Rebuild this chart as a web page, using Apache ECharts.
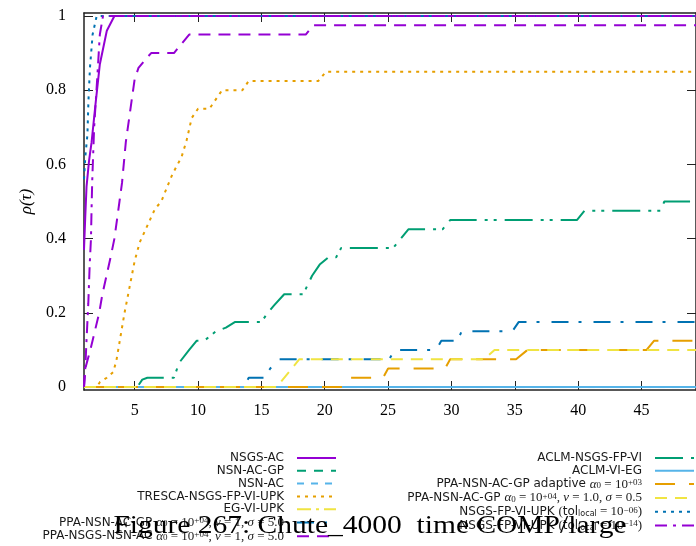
<!DOCTYPE html>
<html>
<head>
<meta charset="utf-8">
<script src="https://cdn.jsdelivr.net/npm/echarts@6/dist/echarts.min.js"></script>
<style>html,body{margin:0;padding:0;background:#fff}#c{width:696px;height:546px}</style>
</head>
<body>
<div id="c"></div>
<script>
// ---- data (tau, rho) ----
const xTicks = [5, 10, 15, 20, 25, 30, 35, 40, 45];
const yTicks = [0, 0.2, 0.4, 0.6, 0.8, 1];
const seriesNames = [
  'NSGS-AC', 'NSN-AC-GP', 'NSN-AC', 'TRESCA-NSGS-FP-VI-UPK', 'EG-VI-UPK',
  'PPA-NSN-AC-GP a0=1e+04 nu=1 s=5.0', 'PPA-NSGS-NSN-AC a0=1e+04 nu=1 s=5.0',
  'ACLM-NSGS-FP-VI', 'ACLM-VI-EG', 'PPA-NSN-AC-GP adaptive a0=1e+03',
  'PPA-NSN-AC-GP a0=1e+04 nu=1.0 s=0.5', 'NSGS-FP-VI-UPK tol=1e-06', 'NSGS-FP-VI-UPK tol=1e-14'
];
const nsgsAc = [[1,0.37],[1.1,0.46],[1.2,0.54],[1.4,0.61],[1.6,0.66],[1.9,0.76],[2.25,0.87],[2.8,0.96],[3.4,1],[50,1]];
const nsnAcGp = [[1,0],[50,0]];
const nsnAc = [[1,0],[50,0]];
const tresca = [[1,0],[2.0,0],[2.25,0.013],[2.8,0.025],[3.3,0.04],[3.55,0.07],[3.8,0.12],[4.2,0.2],[4.6,0.27],[5,0.34],[5.4,0.39],[5.8,0.42],[6.2,0.45],[6.6,0.48],[7.1,0.5],[7.75,0.555],[8,0.575],[8.7,0.62],[9.1,0.665],[9.5,0.725],[10,0.75],[10.9,0.75],[11.7,0.79],[11.9,0.8],[13.5,0.8],[14,0.825],[19.5,0.825],[20.1,0.85],[50,0.85]];
const egViUpk = [[1,0],[50,0]];
const ppaNsnS5 = [[1,0],[13.6,0],[14,0.025],[15.2,0.025],[15.7,0.05],[16.4,0.075],[25.1,0.075],[25.5,0.1],[28.8,0.1],[29.2,0.125],[30.5,0.125],[30.8,0.15],[34.8,0.15],[35.3,0.175],[50,0.175]];
const ppaNsgsNsn = [[1,0],[1.1,0.05],[1.5,0.1],[2.2,0.2],[2.45,0.25],[3.1,0.35],[3.4,0.4],[3.8,0.5],[4.0,0.55],[4.3,0.66],[4.75,0.77],[5,0.83],[5.3,0.86],[5.9,0.885],[6.3,0.9],[8.1,0.9],[9.3,0.95],[18.5,0.95],[19.1,0.975],[50,0.975]];
const aclmNsgs = [[1,0],[5.2,0],[5.6,0.02],[6,0.025],[8.1,0.025],[8.5,0.065],[9.3,0.1],[9.9,0.125],[10.5,0.125],[11.4,0.15],[12.2,0.16],[12.9,0.175],[15,0.175],[15.5,0.2],[16,0.22],[16.8,0.25],[18.3,0.25],[19,0.3],[19.6,0.33],[20.3,0.35],[20.9,0.35],[21.3,0.375],[25.4,0.375],[26.6,0.425],[29.3,0.425],[29.9,0.45],[39.9,0.45],[40.5,0.475],[46.5,0.475],[46.8,0.5],[50,0.5]];
const aclmViEg = [[1,0],[50,0]];
const ppaAdaptive = [[1,0],[21.5,0],[22,0.025],[24.6,0.025],[25,0.05],[29.5,0.05],[29.9,0.075],[35.1,0.075],[36,0.1],[45.4,0.1],[46,0.125],[50,0.125]];
const ppaNsnS05 = [[1,0],[16.2,0],[18,0.075],[32.6,0.075],[33.4,0.1],[50,0.1]];
const tol06 = [[1,0.56],[1.1,0.62],[1.27,0.68],[1.35,0.77],[1.47,0.86],[1.68,0.95],[2,1],[50,1]];
const tol14 = [[1,0],[1.1,0.05],[1.2,0.127],[1.34,0.226],[1.45,0.33],[1.55,0.4],[1.6,0.485],[1.65,0.557],[1.8,0.7],[2.05,0.835],[2.25,0.95],[2.5,1],[50,1]];

const captionText = 'Figure 267: Chute_4000  time COMP/large';

const allData = [nsgsAc, nsnAcGp, nsnAc, tresca, egViUpk, ppaNsnS5, ppaNsgsNsn, aclmNsgs, aclmViEg, ppaAdaptive, ppaNsnS05, tol06, tol14];
const colors = ['#9400d3','#009e73','#56b4e9','#e69f00','#f0e442','#0072b2','#9400d3','#009e73','#56b4e9','#e69f00','#f0e442','#0072b2','#9400d3'];
const dashes = ['solid',[9,8],[7,7],[3,5],[14,5,3,5],[17,10,3,12],[12,8],[28,8,3,6,3,8],'solid',[20,14],[12,8],[3,5],[12,6,3,6]];

const richLabels = {};
richLabels[seriesNames[5]] = '{s|PPA-NSN-AC-GP }{i|α}{sub|0}{m| = 10}{sup|+04}{m|, }{i|ν}{m| = 1, }{i|σ}{m| = 5.0}';
richLabels[seriesNames[6]] = '{s|PPA-NSGS-NSN-AC }{i|α}{sub|0}{m| = 10}{sup|+04}{m|, }{i|ν}{m| = 1, }{i|σ}{m| = 5.0}';
richLabels[seriesNames[9]] = '{s|PPA-NSN-AC-GP adaptive }{i|α}{sub|0}{m| = 10}{sup|+03}';
richLabels[seriesNames[10]] = '{s|PPA-NSN-AC-GP }{i|α}{sub|0}{m| = 10}{sup|+04}{m|, }{i|ν}{m| = 1.0, }{i|σ}{m| = 0.5}';
richLabels[seriesNames[11]] = '{s|NSGS-FP-VI-UPK }{m|(}{s|tol}{ssub|local}{m| = 10}{sup|−06}{m|)}';
richLabels[seriesNames[12]] = '{s|NSGS-FP-VI-UPK }{m|(}{s|tol}{ssub|local}{m| = 10}{sup|−14}{m|)}';

const TXT = '#1a1a1a';
const rich = {
  s: {fontFamily: 'DejaVu Sans', fontSize: 12, lineHeight: 12, color: TXT},
  m: {fontFamily: 'Liberation Serif', fontSize: 13, lineHeight: 12, color: TXT},
  i: {fontFamily: 'Liberation Serif', fontStyle: 'italic', fontSize: 13, lineHeight: 12, color: TXT},
  sup: {fontFamily: 'Liberation Serif', fontSize: 9, lineHeight: 4, verticalAlign: 'top', color: TXT},
  sub: {fontFamily: 'Liberation Serif', fontSize: 9, lineHeight: 6, verticalAlign: 'bottom', color: TXT},
  ssub: {fontFamily: 'DejaVu Sans', fontSize: 8, lineHeight: 6, verticalAlign: 'bottom', color: TXT}
};
const fmt = name => richLabels[name] || ('{s|' + name + '}');

const XMIN = 1, XMAX = 49.3, YMIN = -0.008, YMAX = 1.008;

const chart = echarts.init(document.getElementById('c'), null, {renderer: 'canvas'});
const legendBase = {
  orient: 'vertical', align: 'right', itemWidth: 39, itemHeight: 10, itemGap: 0.8,
  padding: 0, selectedMode: false, formatter: fmt,
  itemStyle: {color: 'rgba(0,0,0,0)', borderWidth: 0, opacity: 0},
  textStyle: {rich: rich, padding: [0, 8, 0, 0]}
};
const tickStyle = {show: true, inside: true, length: 9, lineStyle: {color: '#222', width: 1}};
chart.setOption({
  animation: false,
  backgroundColor: '#fff',
  grid: {left: 84, top: 13, width: 616, height: 377, containLabel: false},
  xAxis: [
    {type: 'value', min: XMIN, max: XMAX, position: 'bottom',
     axisLine: {show: true, onZero: false, lineStyle: {color: '#222', width: 1.5}},
     axisTick: Object.assign({customValues: xTicks}, tickStyle),
     axisLabel: {customValues: xTicks, margin: 13, color: '#000', fontFamily: 'Liberation Serif', fontSize: 16},
     splitLine: {show: false}},
    {type: 'value', min: XMIN, max: XMAX, position: 'top',
     axisLine: {show: true, onZero: false, lineStyle: {color: '#222', width: 1.5}},
     axisTick: Object.assign({customValues: xTicks}, tickStyle),
     axisLabel: {show: false}, splitLine: {show: false}}
  ],
  yAxis: [
    {type: 'value', min: YMIN, max: YMAX, position: 'left',
     name: 'ρ(τ)', nameLocation: 'middle', nameGap: 44, nameRotate: 90,
     nameTextStyle: {fontFamily: 'Liberation Serif', fontStyle: 'italic', fontSize: 17, color: '#000'},
     axisLine: {show: true, onZero: false, lineStyle: {color: '#222', width: 1.5}},
     axisTick: Object.assign({customValues: yTicks}, tickStyle),
     axisLabel: {customValues: yTicks, margin: 18, color: '#000', fontFamily: 'Liberation Serif', fontSize: 16,
       formatter: v => (Math.abs(v) < 1e-9 ? '0' : (Math.abs(v - 1) < 1e-9 ? '1' : v.toFixed(1)))},
     splitLine: {show: false}},
    {type: 'value', min: YMIN, max: YMAX, position: 'right',
     axisLine: {show: true, onZero: false, lineStyle: {color: '#222', width: 1.5}},
     axisTick: Object.assign({customValues: yTicks}, tickStyle),
     axisLabel: {show: false}, splitLine: {show: false}}
  ],
  legend: [
    Object.assign({data: seriesNames.slice(0, 7), right: 359, top: 452}, legendBase),
    Object.assign({data: seriesNames.slice(7), right: 1, top: 452}, legendBase)
  ],
  series: allData.map((d, k) => ({
    name: seriesNames[k], type: 'line', data: d, xAxisIndex: 0, yAxisIndex: 0,
    symbol: 'none', showSymbol: false, clip: true,
    lineStyle: {color: colors[k], width: 2, type: dashes[k], cap: 'butt'},
    itemStyle: {color: colors[k]}
  })),
  graphic: [{
    type: 'text', x: 370, y: 526, z: 100, scaleX: 1.18,
    style: {text: captionText, fill: '#000', font: '25px "Liberation Serif"', textAlign: 'center', textVerticalAlign: 'middle'}
  }]
});
</script>
</body>
</html>
